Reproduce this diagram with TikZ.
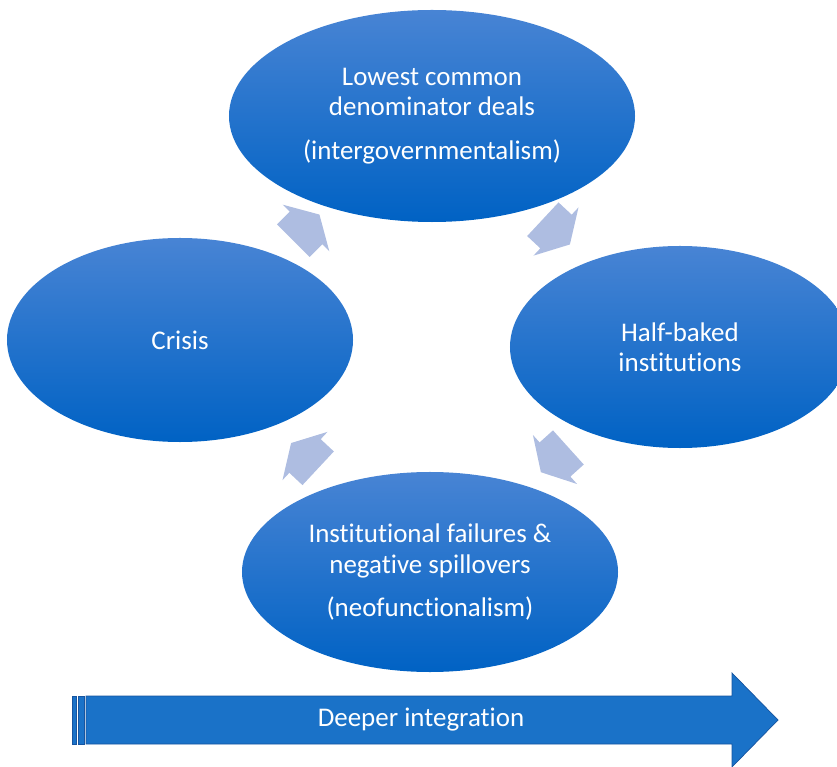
\documentclass[tikz,border=0pt]{standalone}
\usepackage{fontspec}
\setmainfont[Ligatures=NoCommon]{Carlito}
\usetikzlibrary{shapes.geometric,calc}

\definecolor{ovaltop}{RGB}{72,132,212}
\definecolor{ovalbot}{RGB}{0,98,196}
\definecolor{cyclearrow}{RGB}{174,189,225}
\definecolor{barfill}{RGB}{26,114,200}
\definecolor{barline}{RGB}{22,84,160}

\tikzset{
    oval/.style={ellipse, inner sep=0pt, top color=ovaltop, bottom color=ovalbot,
        text=white, align=center, font=\fontsize{23}{26}\selectfont},
    turn/.style={fill=cyclearrow},
    bar/.style={fill=barfill, draw=barline, line width=0.6pt},
}

\begin{document}
\begin{tikzpicture}[x=0.03cm,y=-0.03cm]
        \useasboundingbox (0,0) rectangle (837,767);

        \node[oval, minimum width=12.18cm, minimum height=6.36cm] (lcd) at (432,116) {Lowest common\\denominator deals\\[11pt](intergovernmentalism)};
        \node[oval, minimum width=10.38cm, minimum height=6.12cm] (crisis) at (180,340) {Crisis};
        \node[oval, minimum width=10.2cm, minimum height=6.06cm] (half) at (680,347) {Half-baked\\institutions};
        \node[oval, minimum width=11.28cm, minimum height=6cm] (fail) at (430,572) {Institutional failures \&\\negative spillovers\\[11pt](neofunctionalism)};

        % arrows of the cycle
        \foreach \a/\b/\ang in {crisis/lcd/45, lcd/half/-43, half/fail/-138, fail/crisis/137}
            \fill[turn, shift={($(\a)!0.5!(\b)$)}, rotate=\ang] (-18,-23) -- (0,-23) -- (0,-33) -- (19,0) -- (0,33) -- (0,23) -- (-18,23) -- cycle;

        % big arrow at the bottom
        \filldraw[bar] (72,696) rectangle (76,744);
        \filldraw[bar] (78,696) rectangle (84,744);
        \filldraw[bar] (86,696) -- (732,696) -- (732,673) -- (778,720) -- (732,767) -- (732,744) -- (86,744) -- cycle;
        \node[text=white, font=\fontsize{23}{26}\selectfont] (deeper) at (421,720) {Deeper integration};
    \end{tikzpicture}
\end{document}
